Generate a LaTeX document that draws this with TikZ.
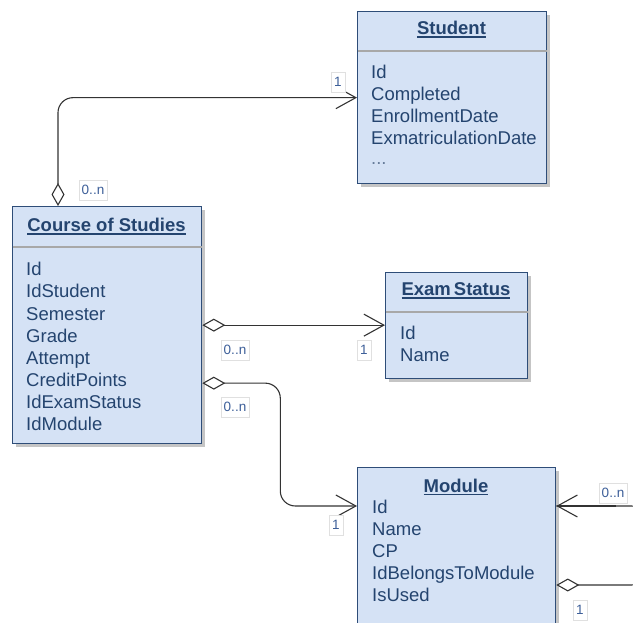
\documentclass[tikz,border=0pt]{standalone}
\usepackage{fontspec}
\setmainfont{Liberation Sans}
\usetikzlibrary{positioning,calc,shadows,arrows.meta}
\definecolor{clsfill}{HTML}{D5E2F5}
\definecolor{clsdraw}{HTML}{2E4D78}
\definecolor{clstext}{HTML}{24446F}
\definecolor{sepgray}{HTML}{A8A8A8}
\definecolor{multtext}{HTML}{3D5F99}
\newcommand{\ttlul}[1]{\setbox0\hbox{#1}\rlap{\rule[-2.8pt]{\wd0}{1.3pt}}\box0}

\begin{document}
\begin{tikzpicture}
 [x=1pt,y=-1pt,
% Class box styles
    cls/.style={rectangle,draw=clsdraw,fill=clsfill,line width=1.3pt,
        anchor=north west,inner sep=0pt,
        drop shadow={shadow xshift=3pt,shadow yshift=-3pt,fill=black!45,opacity=.5}},
    title/.style={anchor=base,inner sep=0pt,text=clstext,
        font=\fontsize{18.5}{22}\selectfont\bfseries},
    attr/.style={anchor=base west,inner sep=0pt,text=clstext,
        font=\fontsize{18.5}{22}\selectfont},
    sep/.style={draw=sepgray,line width=1.6pt,shorten <=0.7pt,shorten >=0.7pt},
% Connector and multiplicity styles
    assoc/.style={draw=black!80,line width=1.1pt,rounded corners=15pt},
    agg/.style={assoc,{Diamond[open,length=23pt,width=13pt]}-{Straight Barb[length=20pt,width=22pt]}},
    nav/.style={assoc,-{Straight Barb[length=20pt,width=22pt]}},
    mult/.style={rectangle,draw=black!12,fill=white,text=multtext,
        font=\fontsize{13.5}{15}\selectfont,inner xsep=3pt,minimum height=20pt}
 ]
\useasboundingbox (0,0) rectangle (633,623);

%% Class boxes
 \node (student) [cls,minimum width=189pt,minimum height=172pt] at (357,11) {};
 \node (course)  [cls,minimum width=189pt,minimum height=237pt] at (12,206) {};
 \node (exam)    [cls,minimum width=142pt,minimum height=106pt] at (385,272) {};
 \node (module)  [cls,minimum width=198pt,minimum height=190pt] at (357,467) {};

%% Titles and separators
 \node (student-t) [title] at (451.5,35) {\ttlul{Student}};
 \node (course-t)  [title] at (106.5,232) {\ttlul{Course of Studies}};
 \node (exam-t)    [title] at (456,296) {\ttlul{Exam\,Status}};
 \node (module-t)  [title] at (456,492) {\ttlul{Module}};
 \draw [sep] ([yshift=-40pt]student.north west) -- ([yshift=-40pt]student.north east);
 \draw [sep] ([yshift=-41pt]course.north west) -- ([yshift=-41pt]course.north east);
 \draw [sep] ([yshift=-40pt]exam.north west) -- ([yshift=-40pt]exam.north east);

%% Attributes
 \foreach \t [count=\i] in {Id,Completed,EnrollmentDate,ExmatriculationDate}
    \node (student-\i) [attr] at (371,57+22*\i) {\t};
 \node (student-5) [attr,text=clstext!70] at (371,165) {...};
 \foreach \t [count=\i] in {Id,IdStudent,Semester,Grade,Attempt,CreditPoints,IdExamStatus,IdModule}
    \node (course-\i) [attr] at (26,254+22*\i) {\t};
 \foreach \t [count=\i] in {Id,Name}
    \node (exam-\i) [attr] at (400,318+22*\i) {\t};
 \foreach \t [count=\i] in {Id,Name,CP,IdBelongsToModule,IsUsed}
    \node (module-\i) [attr] at (372,491+22*\i) {\t};

%% Connectors
 \coordinate (mod-in)  at ([yshift=-39pt]module.north west);
 \coordinate (mod-ret) at ([yshift=-39pt]module.north east);
 \coordinate (mod-out) at ([yshift=-118pt]module.north east);
 \draw [agg] ([xshift=46pt]course.north west) |- (student.west);
 \draw [agg] (course.east) -- (course.east -| exam.west);
 \draw [agg] ([yshift=-58pt]course.east) -- ++(78,0) |- (mod-in);
 \draw [assoc,{Diamond[open,length=23pt,width=13pt]}-] (mod-out) -- ++(90,0) |- (mod-ret);
 \draw [nav] ([xshift=60pt]mod-ret) -- (mod-ret);

%% Multiplicities
 \node (m-st-n)  [mult] at (93,190) {0..n};
 \node (m-st-1)  [mult] at (338,82) {1};
 \node (m-ex-n)  [mult] at (235,350) {0..n};
 \node (m-ex-1)  [mult] at (364,350) {1};
 \node (m-mo-n)  [mult] at (235,407) {0..n};
 \node (m-mo-1)  [mult] at (336,525) {1};
 \node (m-self-n) [mult] at (613,493) {0..n};
 \node (m-self-1) [mult] at (580,610) {1};
\end{tikzpicture}
\end{document}
